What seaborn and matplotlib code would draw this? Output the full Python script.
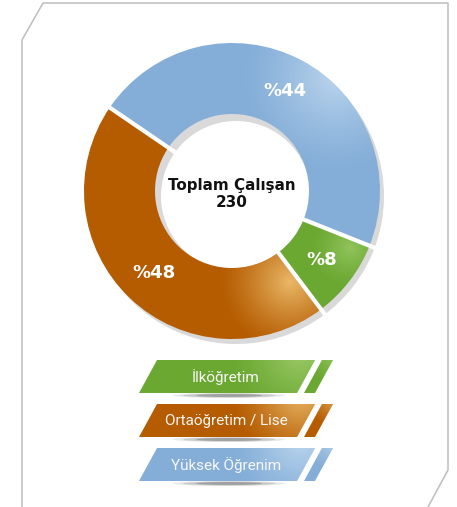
import numpy as np
import matplotlib.pyplot as plt
import seaborn as sns
from matplotlib.patches import Polygon, Ellipse
from matplotlib.colors import to_rgb

# Legend order (as shown under the donut)
categories = ["İlköğretim", "Ortaöğretim / Lise", "Yüksek Öğrenim"]
pct_labels = ["%8", "%48", "%44"]
# slice sizes as drawn in the picture (share of the ring, %)
slice_sizes = [8.7, 44.8, 46.5]
base_colors = ["#6BA832", "#B55B00", "#84AED8"]
light_colors = ["#A2CF6E", "#EDBE6E", "#C3DBF1"]
center_title = "Toplam Çalışan"
center_total = "230"

# pie order: blue, green, brown (clockwise from upper left)
pie_order = [2, 0, 1]

sns.set_theme(style="white")
plt.rcParams['font.family'] = ['DejaVu Sans']

W, H = 457, 507
fig = plt.figure(figsize=(W / 100, H / 100), dpi=100)
ax = fig.add_axes([0, 0, 1, 1])


def py(y):
    # pixel row (top-down) -> data y (bottom-up)
    return H - y


def highlight(ax, patch, cx, cy, r, color, strength=0.9):
    n = 120
    xs = np.linspace(cx - r, cx + r, n)
    ys = np.linspace(cy - r, cy + r, n)
    X, Y = np.meshgrid(xs, ys)
    d = np.hypot(X - cx, Y - cy) / r
    rgba = np.zeros((n, n, 4))
    rgba[..., :3] = to_rgb(color)
    rgba[..., 3] = np.clip(1 - d, 0, 1) ** 1.3 * strength
    im = ax.imshow(rgba, extent=(cx - r, cx + r, cy - r, cy + r), origin='lower',
                   interpolation='bilinear', zorder=patch.get_zorder() + 0.1)
    im.set_clip_path(patch)


# frame with cut corners
frame_x = [22, 22, 43, 448, 448, 428]
frame_y = [507, 40, 3, 3, 470, 507]
ax.plot(frame_x, [py(v) for v in frame_y], color="#BDBDBD", lw=1.1, zorder=1)

# donut
cx, cy, R, r_in = 232, py(191), 148, 77
sizes = [slice_sizes[i] for i in pie_order]
cols = [base_colors[i] for i in pie_order]

shadow, _ = ax.pie(sizes, center=(cx + 4, cy - 5), radius=R, startangle=145.7,
                   counterclock=False, colors=["#D9D9D9"] * 3,
                   wedgeprops=dict(width=R - r_in + 2, linewidth=0))
for w in shadow:
    w.set_zorder(2)

wedges, _ = ax.pie(sizes, center=(cx, cy), radius=R, startangle=145.7,
                   counterclock=False, colors=cols,
                   wedgeprops=dict(width=R - r_in, linewidth=0))
for w in wedges:
    w.set_zorder(3)

# glossy highlights
hl = {2: (335, 78, 95, 0.85), 0: (350, 248, 40, 0.7), 1: (290, 282, 72, 0.95)}
for w, i in zip(wedges, pie_order):
    hx, hy, hr, s = hl[i]
    highlight(ax, w, hx, py(hy), hr, light_colors[i], s)

# white gaps between slices
for w in wedges:
    a = np.deg2rad(w.theta1)
    rr = np.array([r_in - 12, R + 9])
    ax.plot(cx + rr * np.cos(a), cy + rr * np.sin(a), color="white", lw=3,
            solid_capstyle="butt", zorder=5)

# percentage labels along wedge mid-angle
for w, i in zip(wedges, pie_order):
    ang = np.deg2rad((w.theta1 + w.theta2) / 2)
    ax.text(cx + 113 * np.cos(ang), cy + 113 * np.sin(ang), pct_labels[i],
            ha="center", va="center", color="white", fontsize=13,
            fontweight="bold", zorder=6)

ax.text(cx, cy - 3, center_title + "\n" + center_total, ha="center", va="center",
        fontsize=10.9, fontweight="bold", color="#111111", linespacing=1.2, zorder=6)

# legend buttons
tops = [360, 404, 448]
bh, slant = 33, 18
for k, (lab, c, lc) in enumerate(zip(categories, base_colors, light_colors)):
    t, b = tops[k], tops[k] + bh
    main = Polygon([(139, py(b)), (139 + slant, py(t)), (315, py(t)), (315 - slant, py(b))],
                   closed=True, fc=c, ec="none", zorder=4)
    ax.add_patch(main)
    highlight(ax, main, 300, py(t - 8), 70, lc, 0.9)
    stripe = Polygon([(304, py(b)), (304 + slant, py(t)), (333, py(t)), (333 - slant, py(b))],
                     closed=True, fc=c, ec="none", zorder=4)
    ax.add_patch(stripe)
    highlight(ax, stripe, 335, py(t - 6), 30, lc, 0.8)
    ax.text(226, py(t + bh / 2 + 1), lab, ha="center", va="center", color="#F7F7F7",
            fontsize=11, family=["Roboto", "DejaVu Sans"], zorder=6)
    # soft shadow under the button
    for ww, hh, a in [(112, 5, 0.12), (92, 4, 0.18), (66, 3, 0.3)]:
        ax.add_patch(Ellipse((229, py(b + 2.5)), ww, hh, fc="#444444", ec="none",
                             alpha=a, zorder=3))

ax.set_xlim(0, W)
ax.set_ylim(0, H)
ax.set_aspect("auto")
ax.axis("off")
fig.savefig("out.png", dpi=100, facecolor="white")
